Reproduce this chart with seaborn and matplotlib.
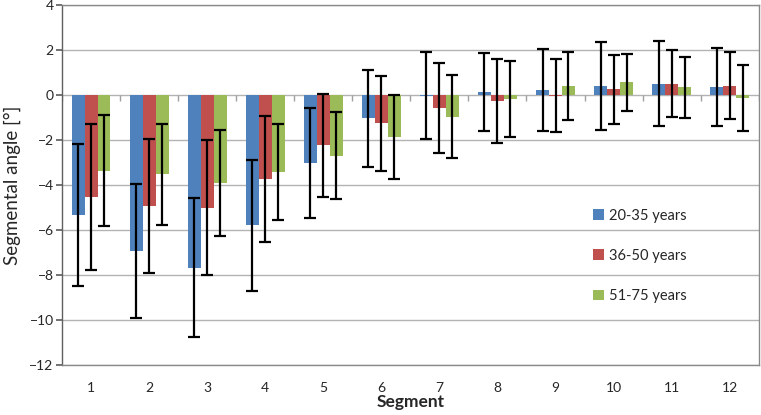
import numpy as np
import pandas as pd
import matplotlib
matplotlib.use("Agg")
import matplotlib.pyplot as plt
import seaborn as sns

# Segmental angle per age group (mean and standard deviation, degrees)
segments = [str(i) for i in range(1, 13)]
groups = ["20-35 years", "36-50 years", "51-75 years"]
mean_20_35 = [-5.33, -6.93, -7.67, -5.79, -3.02, -1.04, -0.03, 0.13, 0.22, 0.41, 0.50, 0.37]
sd_20_35 = [3.15, 2.97, 3.07, 2.90, 2.45, 2.15, 1.93, 1.73, 1.82, 1.95, 1.89, 1.73]
mean_36_50 = [-4.52, -4.93, -5.02, -3.75, -2.24, -1.26, -0.58, -0.28, -0.03, 0.25, 0.50, 0.41]
sd_36_50 = [3.25, 2.97, 3.00, 2.80, 2.28, 2.10, 2.00, 1.87, 1.63, 1.53, 1.50, 1.49]
mean_51_75 = [-3.36, -3.53, -3.90, -3.41, -2.70, -1.88, -0.96, -0.18, 0.39, 0.56, 0.34, -0.13]
sd_51_75 = [2.48, 2.25, 2.35, 2.13, 1.93, 1.86, 1.84, 1.70, 1.52, 1.28, 1.37, 1.45]

means = [mean_20_35, mean_36_50, mean_51_75]
sds = [sd_20_35, sd_36_50, sd_51_75]
colors = ["#4F81BD", "#C0504D", "#9BBB59"]

df = pd.DataFrame({
    "Segment": segments * 3,
    "Group": np.repeat(groups, len(segments)),
    "Angle": np.concatenate(means),
})

sns.set_theme(style="white")
plt.rcParams["font.family"] = ["Lato", "DejaVu Sans"]

fig, ax = plt.subplots(figsize=(7.61, 4.15), dpi=100)
fig.subplots_adjust(left=0.0815, right=0.997, top=0.988, bottom=0.1205)

sns.barplot(data=df, x="Segment", y="Angle", hue="Group", palette=colors,
            width=0.67, gap=0, errorbar=None, saturation=1, ax=ax, zorder=2,
            linewidth=0, edgecolor="none")

# error bars (+/- SD) on each bar centre
for cont, sd in zip(ax.containers, sds):
    xs = [b.get_x() + b.get_width() / 2 for b in cont]
    ys = [b.get_y() + b.get_height() for b in cont]
    ax.errorbar(xs, ys, yerr=sd, fmt="none", ecolor="black", elinewidth=1.6,
                capsize=4, capthick=1.6, zorder=3)

ax.set_ylim(-12, 4)
ax.set_yticks(np.arange(-12, 5, 2))
ax.set_xlim(-0.5, len(segments) - 0.5)
ax.yaxis.grid(True, color="#b3b3b3", linewidth=1)
ax.set_axisbelow(True)

# category tick marks on the zero line
ax.vlines(np.arange(len(segments) + 1) - 0.5, -0.25, 0, color="#a0a0a0",
          linewidth=1, zorder=1)

for s in ax.spines.values():
    s.set_color("#8a8a8a")
    s.set_linewidth(1)
ax.spines["left"].set_color("#606060")

ax.tick_params(axis="y", left=True, length=4, color="#606060", labelsize=10, pad=2)
ax.tick_params(axis="x", bottom=False, labelsize=10, pad=6)

ax.set_xlabel("Segment", fontsize=12.5, fontweight="bold", labelpad=0)
ax.set_ylabel("Segmental angle [°]", fontsize=13.5, labelpad=6)

ax.legend(loc="center left", bbox_to_anchor=(0.744, 0.303), frameon=False,
          fontsize=10.5, labelspacing=1.8, handlelength=0.75, handleheight=0.75,
          handletextpad=0.3)

plt.savefig("out.png", dpi=100)
